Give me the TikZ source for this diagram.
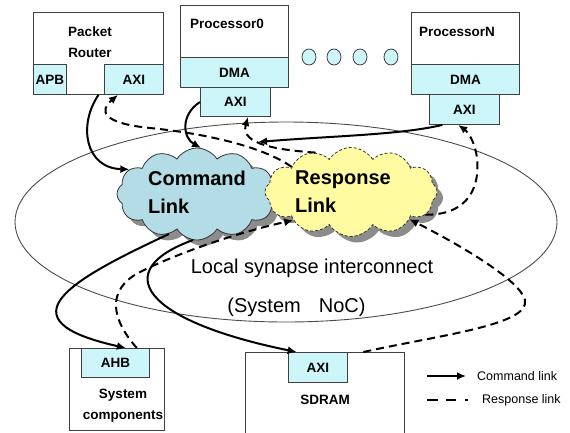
\documentclass[tikz,border=0pt]{standalone}
\usepackage{fontspec}
\setmainfont{Liberation Sans}
\usetikzlibrary{shapes.symbols,shapes.geometric,shadows,arrows.meta}

\definecolor{boxcyan}{RGB}{204,246,250}
\definecolor{cmdblue}{RGB}{180,220,230}
\definecolor{rspyellow}{RGB}{255,251,160}
\definecolor{shadowgray}{RGB}{140,140,140}

\begin{document}
\begin{tikzpicture}[x=1pt,y=-1pt,
  box/.style={draw=black!75, line width=0.9pt, fill=white, inner sep=0pt, anchor=north west},
  port/.style={box, fill=boxcyan, font=\bfseries\fontsize{13.5}{16}\selectfont},
  boxtext/.style={font=\bfseries\fontsize{13.5}{21}\selectfont, inner sep=0pt, align=center},
  dotnode/.style={ellipse, draw=black!75, line width=0.8pt, fill=boxcyan,
    minimum width=14pt, minimum height=16pt, inner sep=0pt},
  cloudbase/.style={cloud, cloud puffs=12, cloud puff arc=115, line width=0.8pt, inner sep=0pt,
    drop shadow={shadow xshift=6pt, shadow yshift=-6pt, fill=shadowgray, opacity=1}},
  cloudtext/.style={font=\bfseries\fontsize{20}{28}\selectfont, align=left, inner sep=0pt},
  noctext/.style={font=\fontsize{20}{24}\selectfont, inner sep=0pt},
  legendtext/.style={font=\fontsize{12.5}{15}\selectfont, inner sep=0pt, anchor=west},
  cmdline/.style={line width=2pt, -{Latex[length=9pt,width=8pt]}},
  rspline/.style={line width=2pt, dash pattern=on 8pt off 5pt, -{Latex[length=9pt,width=8pt]}},
]
\useasboundingbox (0,0) rectangle (570,432);

% the network on chip
\node[ellipse, draw=black!70, line width=0.9pt, minimum width=542pt, minimum height=200pt,
  inner sep=0pt] (noc) at (286,222) {};
\node[noctext] (noc-label1) at (312,268) {Local synapse interconnect};
\node[noctext] (noc-label2) at (296.5,307) {(System\hspace{18pt}NoC)};

% packet router
\node[box, minimum width=130pt, minimum height=82pt] (pr) at (33,12) {};
\node[boxtext] (pr-label) at (90,42.5) {Packet\\Router};
\node[port, minimum width=33pt, minimum height=30pt] (pr-apb) at (33,64) {APB};
\node[port, minimum width=59pt, minimum height=30pt] (pr-axi) at (104,64) {AXI};

% processor 0
\node[box, minimum width=108pt, minimum height=52pt] (p0) at (180,5) {};
\node[boxtext] (p0-label) at (227,24) {Processor0};
\node[port, minimum width=108pt, minimum height=30pt] (p0-dma) at (180,57) {DMA};
\node[port, minimum width=70pt, minimum height=29pt] (p0-axi) at (200,87) {AXI};

% processor N
\node[box, minimum width=108pt, minimum height=52pt] (pn) at (411,12) {};
\node[boxtext] (pn-label) at (457,32) {ProcessorN};
\node[port, minimum width=108pt, minimum height=30pt] (pn-dma) at (411,64) {DMA};
\node[port, minimum width=70pt, minimum height=30pt] (pn-axi) at (429,94) {AXI};

% further processors
\node[dotnode] (dot1) at (309,57) {};
\node[dotnode] (dot2) at (334,57) {};
\node[dotnode] (dot3) at (360,57) {};
\node[dotnode] (dot4) at (391,57) {};

% system components
\node[box, minimum width=95pt, minimum height=82pt] (sys) at (69,348) {};
\node[port, minimum width=68pt, minimum height=29pt] (ahb) at (81,348) {AHB};
\node[boxtext] (sys-label) at (123,406) {System\\components};

% SDRAM
\node[box, minimum width=159pt, minimum height=94pt] (sdram) at (245,352) {};
\node[port, minimum width=59pt, minimum height=30pt] (sdram-axi) at (288,352) {AXI};
\node[boxtext] (sdram-label) at (325,400) {SDRAM};

% the two links
\node[cloudbase, draw=black!80, fill=cmdblue, minimum width=160pt, minimum height=92pt,
  aspect=1.74] (cmd) at (197,194) {};
\node[cloudtext] (cmd-label) at (197,192.5) {Command\\Link};
\node[cloudbase, draw=black!80, dash pattern=on 3pt off 2pt, fill=rspyellow,
  minimum width=172pt, minimum height=89pt, aspect=1.93] (rsp) at (351,192) {};
\node[cloudtext] (rsp-label) at (343,191.5) {Response\\Link};

\coordinate (cmd-in) at (258,142);

% command paths
\draw[cmdline] (pr.south) .. controls (78,125) and (85,168) .. (cmd.160);
\draw[cmdline] (p0-axi.west) .. controls (180,115) and (183,138) .. (cmd.85);
\draw[cmdline] (pn-axi.215) .. controls (400,135) and (330,136) .. (cmd-in);
\draw[cmdline] (cmd.235) .. controls (70,280) and (0,320) .. (ahb.55);
\draw[cmdline] (cmd.265) .. controls (110,270) and (140,320) .. (sdram-axi.144);

% response paths
\draw[rspline] (rsp.157) .. controls (260,145) and (200,133) .. (150,128)
  .. controls (100,123) and (100,110) .. (pr-axi.224);
\draw[rspline] (rsp.132) .. controls (280,150) and (240,145) .. (p0-axi.310);
\draw[rspline] (rsp.343) .. controls (470,215) and (480,185) .. (477,158)
  .. controls (475,142) and (468,132) .. (pn-axi.248);
\draw[rspline] (sdram.51) .. controls (440,335) and (530,325) .. (525,300)
  .. controls (520,280) and (460,245) .. (rsp.335);
\draw[rspline] (ahb.35) .. controls (112,320) and (105,290) .. (140,272)
  .. controls (180,252) and (240,232) .. (rsp.206);

% legend
\coordinate (lg-c1) at (427,376);
\coordinate (lg-c2) at (466,376);
\coordinate (lg-r1) at (427,400);
\coordinate (lg-r2) at (468,400);
\draw[cmdline] (lg-c1) -- (lg-c2);
\draw[line width=2pt, dash pattern=on 11pt off 8pt on 10pt off 9pt on 3pt] (lg-r1) -- (lg-r2);
\node[legendtext] (lg-ct) at (477,376) {Command link};
\node[legendtext] (lg-rt) at (482,400) {Response link};
\end{tikzpicture}
\end{document}
